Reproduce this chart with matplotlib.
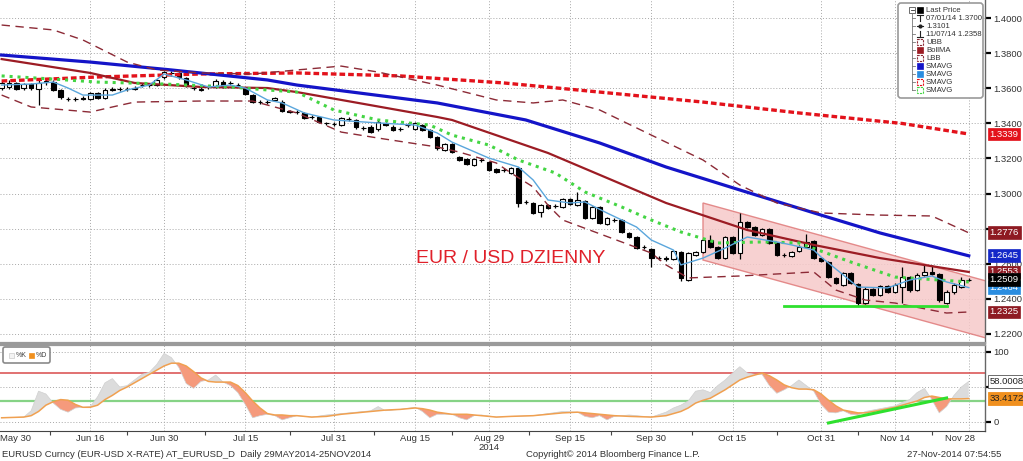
import numpy as np
import pandas as pd
import matplotlib
matplotlib.use('Agg')
import matplotlib.pyplot as plt
from matplotlib.patches import Rectangle, FancyBboxPatch, Polygon
from matplotlib.transforms import ScaledTranslation

plt.rcParams['font.family'] = ['Liberation Sans', 'DejaVu Sans']

# ---------------- data ----------------
dates = pd.bdate_range('2014-05-29', periods=132)

opens = [1.3599, 1.3605, 1.3628, 1.3599, 1.3622, 1.3595, 1.3637, 1.3637, 1.3590, 1.3537,
         1.3540, 1.3545, 1.3537, 1.3571, 1.3546, 1.3592, 1.3594, 1.3596, 1.3597, 1.3616,
         1.3618, 1.3618, 1.3662, 1.3687, 1.3685, 1.3656, 1.3601, 1.3592, 1.3607, 1.3609,
         1.3637, 1.3627, 1.3620, 1.3599, 1.3561, 1.3523, 1.3521, 1.3533, 1.3523, 1.3468,
         1.3466, 1.3460, 1.3435, 1.3434, 1.3400, 1.3397, 1.3390, 1.3424, 1.3419, 1.3373,
         1.3381, 1.3366, 1.3400, 1.3381, 1.3366, 1.3390, 1.3366, 1.3390, 1.3362, 1.3322,
         1.3248, 1.3282, 1.3208, 1.3197, 1.3162, 1.3191, 1.3179, 1.3140, 1.3134, 1.3117,
         1.3145, 1.2952, 1.2946, 1.2895, 1.2934, 1.2929, 1.2923, 1.2969, 1.2934, 1.2957,
         1.2860, 1.2923, 1.2826, 1.2849, 1.2849, 1.2775, 1.2752, 1.2695, 1.2684, 1.2632,
         1.2630, 1.2628, 1.2667, 1.2507, 1.2650, 1.2667, 1.2735, 1.2695, 1.2632, 1.2752,
         1.2661, 1.2838, 1.2809, 1.2764, 1.2798, 1.2718, 1.2650, 1.2644, 1.2672, 1.2695,
         1.2729, 1.2632, 1.2610, 1.2519, 1.2479, 1.2547, 1.2484, 1.2376, 1.2456, 1.2422,
         1.2473, 1.2439, 1.2467, 1.2524, 1.2450, 1.2536, 1.2553, 1.2541, 1.2376, 1.2439,
         1.2467, 1.2505]
closes = [1.3628, 1.3630, 1.3594, 1.3622, 1.3599, 1.3631, 1.3640, 1.3590, 1.3548, 1.3540,
          1.3537, 1.3540, 1.3571, 1.3546, 1.3590, 1.3594, 1.3596, 1.3594, 1.3599, 1.3618,
          1.3616, 1.3647, 1.3694, 1.3685, 1.3662, 1.3614, 1.3599, 1.3594, 1.3609, 1.3643,
          1.3609, 1.3628, 1.3618, 1.3567, 1.3523, 1.3521, 1.3523, 1.3542, 1.3470, 1.3466,
          1.3467, 1.3429, 1.3434, 1.3409, 1.3399, 1.3396, 1.3429, 1.3423, 1.3377, 1.3372,
          1.3352, 1.3409, 1.3390, 1.3362, 1.3367, 1.3391, 1.3400, 1.3362, 1.3322, 1.3259,
          1.3282, 1.3236, 1.3191, 1.3168, 1.3197, 1.3190, 1.3134, 1.3123, 1.3133, 1.3145,
          1.2946, 1.2951, 1.2889, 1.2934, 1.2917, 1.2930, 1.2969, 1.2940, 1.2963, 1.2860,
          1.2923, 1.2832, 1.2860, 1.2850, 1.2781, 1.2752, 1.2691, 1.2694, 1.2632, 1.2631,
          1.2628, 1.2672, 1.2519, 1.2661, 1.2667, 1.2735, 1.2695, 1.2632, 1.2752, 1.2661,
          1.2838, 1.2809, 1.2764, 1.2798, 1.2718, 1.2650, 1.2651, 1.2667, 1.2695, 1.2724,
          1.2632, 1.2615, 1.2524, 1.2490, 1.2547, 1.2490, 1.2376, 1.2456, 1.2422, 1.2473,
          1.2439, 1.2479, 1.2524, 1.2450, 1.2536, 1.2553, 1.2541, 1.2393, 1.2439, 1.2479,
          1.2507, 1.2509]
highs = [1.3640, 1.3645, 1.3636, 1.3632, 1.3630, 1.3650, 1.3660, 1.3645, 1.3595, 1.3552,
         1.3550, 1.3555, 1.3580, 1.3578, 1.3600, 1.3605, 1.3606, 1.3608, 1.3610, 1.3630,
         1.3628, 1.3655, 1.3700, 1.3700, 1.3692, 1.3662, 1.3612, 1.3605, 1.3620, 1.3652,
         1.3645, 1.3640, 1.3630, 1.3606, 1.3566, 1.3532, 1.3533, 1.3550, 1.3530, 1.3478,
         1.3478, 1.3466, 1.3445, 1.3440, 1.3410, 1.3406, 1.3436, 1.3434, 1.3425, 1.3384,
         1.3388, 1.3418, 1.3408, 1.3388, 1.3378, 1.3402, 1.3410, 1.3398, 1.3368, 1.3328,
         1.3290, 1.3290, 1.3215, 1.3204, 1.3205, 1.3202, 1.3185, 1.3146, 1.3145, 1.3152,
         1.3152, 1.2965, 1.2952, 1.2942, 1.2940, 1.2940, 1.2976, 1.2975, 1.3009, 1.2963,
         1.2930, 1.2930, 1.2868, 1.2860, 1.2855, 1.2780, 1.2758, 1.2706, 1.2690, 1.2645,
         1.2642, 1.2680, 1.2672, 1.2668, 1.2675, 1.2742, 1.2765, 1.2702, 1.2760, 1.2760,
         1.2887, 1.2845, 1.2815, 1.2806, 1.2805, 1.2722, 1.2662, 1.2675, 1.2705, 1.2770,
         1.2736, 1.2640, 1.2616, 1.2525, 1.2555, 1.2553, 1.2490, 1.2465, 1.2462, 1.2480,
         1.2480, 1.2488, 1.2580, 1.2530, 1.2545, 1.2600, 1.2590, 1.2548, 1.2448, 1.2490,
         1.2525, 1.2520]
lows = [1.3590, 1.3598, 1.3588, 1.3592, 1.3590, 1.3503, 1.3620, 1.3585, 1.3540, 1.3525,
        1.3528, 1.3530, 1.3530, 1.3540, 1.3538, 1.3582, 1.3584, 1.3585, 1.3588, 1.3605,
        1.3606, 1.3610, 1.3655, 1.3672, 1.3655, 1.3605, 1.3590, 1.3583, 1.3598, 1.3600,
        1.3602, 1.3617, 1.3608, 1.3560, 1.3516, 1.3512, 1.3512, 1.3526, 1.3462, 1.3456,
        1.3455, 1.3422, 1.3425, 1.3402, 1.3390, 1.3386, 1.3385, 1.3414, 1.3370, 1.3360,
        1.3345, 1.3358, 1.3383, 1.3355, 1.3355, 1.3380, 1.3360, 1.3356, 1.3316, 1.3250,
        1.3240, 1.3228, 1.3185, 1.3160, 1.3155, 1.3180, 1.3127, 1.3116, 1.3123, 1.3110,
        1.2923, 1.2940, 1.2882, 1.2866, 1.2910, 1.2918, 1.2916, 1.2934, 1.2928, 1.2852,
        1.2852, 1.2825, 1.2820, 1.2838, 1.2775, 1.2745, 1.2685, 1.2684, 1.2581, 1.2620,
        1.2615, 1.2620, 1.2500, 1.2500, 1.2642, 1.2660, 1.2688, 1.2625, 1.2625, 1.2655,
        1.2624, 1.2802, 1.2758, 1.2756, 1.2712, 1.2642, 1.2640, 1.2636, 1.2665, 1.2688,
        1.2625, 1.2608, 1.2516, 1.2484, 1.2472, 1.2484, 1.2358, 1.2368, 1.2415, 1.2415,
        1.2432, 1.2432, 1.2376, 1.2440, 1.2442, 1.2528, 1.2535, 1.2380, 1.2368, 1.2430,
        1.2460, 1.2500]

# moving averages / bands (day index, value)
sma_red_days = [0, 13, 27, 40, 54, 68, 81, 95, 108, 122, 131]
sma_red = [1.3641, 1.3664, 1.3681, 1.3687, 1.3670, 1.3630, 1.3578, 1.3521, 1.3459, 1.3399, 1.3339]

sma_blue_days = [0, 12, 23, 36, 40, 59, 71, 81, 90, 100, 111, 119, 131]
sma_blue = [1.3789, 1.3749, 1.3704, 1.3647, 1.3618, 1.3516, 1.3419, 1.3288, 1.3151, 1.3020,
            1.2877, 1.2775, 1.2645]

bollma_days = [0, 12, 18, 27, 36, 40, 59, 61, 74, 90, 101, 110, 119, 131]
bollma = [1.3766, 1.3687, 1.3630, 1.3607, 1.3601, 1.3578, 1.3436, 1.3419, 1.3231, 1.2946,
          1.2792, 1.2707, 1.2632, 1.2553]

ubb_days = [0, 7, 11, 17, 21, 27, 34, 40, 46, 51, 59, 67, 72, 76, 81, 88, 95, 100, 105, 111,
            119, 126, 131]
ubb = [1.3960, 1.3932, 1.3875, 1.3749, 1.3704, 1.3687, 1.3681, 1.3704, 1.3726, 1.3692,
       1.3618, 1.3533, 1.3516, 1.3533, 1.3476, 1.3333, 1.3191, 1.3048, 1.2946, 1.2889,
       1.2877, 1.2872, 1.2776]

lbb_days = [0, 4, 12, 15, 18, 27, 34, 36, 40, 46, 51, 59, 62, 67, 69, 72, 74, 76, 88, 90,
            93, 100, 110, 113, 117, 121, 128, 131]
lbb = [1.3561, 1.3493, 1.3464, 1.3493, 1.3521, 1.3527, 1.3527, 1.3504, 1.3459, 1.3350,
       1.3316, 1.3265, 1.3236, 1.3174, 1.3117, 1.3037, 1.2934, 1.2849, 1.2661, 1.2593,
       1.2519, 1.2530, 1.2553, 1.2450, 1.2393, 1.2376, 1.2319, 1.2325]

sma_green_days = [0, 7, 13, 22, 31, 36, 40, 45, 51, 58, 61, 66, 70, 75, 79, 84, 88, 92, 97,
                  103, 108, 115, 121, 131]
sma_green = [1.3670, 1.3652, 1.3635, 1.3624, 1.3607, 1.3590, 1.3578, 1.3476, 1.3419, 1.3390,
             1.3333, 1.3276, 1.3191, 1.3117, 1.3009, 1.2923, 1.2849, 1.2781, 1.2718, 1.2724,
             1.2718, 1.2610, 1.2524, 1.2496]

sma_lblue_days = [0, 4, 7, 9, 11, 15, 17, 20, 22, 25, 28, 31, 33, 36, 38, 41, 45, 51, 56, 59,
                  61, 66, 70, 72, 74, 77, 79, 82, 86, 88, 91, 92, 95, 98, 101, 105, 107, 110,
                  111, 114, 116, 120, 123, 126, 128, 131]
sma_lblue = [1.3618, 1.3624, 1.3635, 1.3601, 1.3561, 1.3561, 1.3590, 1.3618, 1.3681, 1.3647,
             1.3607, 1.3618, 1.3601, 1.3533, 1.3516, 1.3459, 1.3419, 1.3402, 1.3390, 1.3345,
             1.3293, 1.3202, 1.3151, 1.3077, 1.2963, 1.2946, 1.2952, 1.2889, 1.2809, 1.2735,
             1.2678, 1.2593, 1.2632, 1.2689, 1.2752, 1.2724, 1.2707, 1.2678, 1.2638, 1.2536,
             1.2467, 1.2462, 1.2507, 1.2530, 1.2496, 1.2464]

# trend channel and support line
channel_days = [95, 134, 134, 95]
channel_vals = [1.2946, 1.2494, 1.2169, 1.2621]
support_days = [106, 128]
support_vals = [1.2361, 1.2361]

# stochastic
stoch_days = [0, 3, 4, 5, 6, 7, 8, 9, 10, 11, 12, 13, 14, 15, 16, 17, 18, 19, 20, 21, 22, 23,
              24, 25, 26, 27, 28, 29, 30, 31, 32, 33, 34, 35, 36, 37, 38, 39, 40, 42, 44, 46,
              48, 50, 51, 52, 54, 56, 57, 58, 59, 61, 62, 63, 64, 65, 67, 69, 72, 74, 76, 78,
              79, 80, 81, 82, 83, 85, 88, 90, 91, 92, 93, 94, 95, 96, 97, 98, 99, 100, 101,
              102, 103, 104, 105, 106, 107, 108, 109, 110, 111, 112, 113, 114, 115, 116, 117,
              118, 120, 121, 122, 123, 124, 125, 126, 127, 128, 129, 130, 131]
stoch_d = [6, 7, 9, 15, 24, 29, 32, 31, 25, 21, 21, 24, 32, 38, 45, 50, 56, 62, 68, 74, 80, 84,
           84, 80, 72, 63, 58, 57, 57, 57, 52, 42, 30, 20, 12, 10, 10, 9, 9, 7, 8, 11,
           13, 15, 16, 17, 18, 20, 19, 17, 14, 11, 11, 11, 10, 9, 7, 8, 9, 11, 13, 14,
           13, 12, 11, 10, 9, 8, 7, 9, 12, 15, 20, 27, 31, 34, 40, 46, 53, 60, 64,
           67, 70, 66, 60, 53, 49, 47, 47, 46, 40, 31, 23, 17, 15, 13, 13,
           15, 19, 21, 24, 27, 30, 35, 37, 35, 33, 33, 33, 33.4172]
stoch_k = [6, 7, 16, 44, 40, 27, 18, 14, 20, 21, 22, 36, 56, 62, 50, 52, 60, 68, 71, 82, 98, 92,
           78, 55, 48, 58, 60, 67, 57, 52, 42, 25, 6, 9, 11, 9, 3, 6, 9, 7, 10, 12,
           14, 16, 22, 16, 18, 21, 15, 6, 11, 11, 6, 3, 9, 10, 7, 8, 9, 12, 15, 14,
           8, 6, 9, 3, 8, 10, 7, 14, 20, 24, 30, 44, 46, 42, 52, 60, 70, 79, 70,
           68, 68, 52, 41, 46, 52, 60, 52, 44, 25, 14, 13, 16, 11, 10, 15,
           17, 21, 23, 28, 32, 42, 48, 32, 13, 22, 38, 50, 58.0008]
stoch_trend_days = [112, 128]
stoch_trend_vals = [-1.4, 34.3]

tick_dates = ['2014-05-30', '2014-06-16', '2014-06-30', '2014-07-15', '2014-07-31',
              '2014-08-15', '2014-08-29', '2014-09-15', '2014-09-30', '2014-10-15',
              '2014-10-31', '2014-11-14', '2014-11-28']
tick_labels = ['May 30', 'Jun 16', 'Jun 30', 'Jul 15', 'Jul 31', 'Aug 15', 'Aug 29\n2014',
               'Sep 15', 'Sep 30', 'Oct 15', 'Oct 31', 'Nov 14', 'Nov 28']

price_ticks = [1.22, 1.24, 1.26, 1.28, 1.30, 1.32, 1.34, 1.36, 1.38, 1.40]
price_tick_labels = ['1.2200', '1.2400', '1.2600', '', '1.3000', '1.3200', '1.3400', '1.3600',
                     '1.3800', '1.4000']   # 1.2800 sits fully under the 1.2776 tag
stoch_ticks = [0, 50, 100]
stoch_tick_labels = ['0', '', '100']       # 50 sits fully under the 58.0008 tag

tag_vals = [1.3339, 1.2776, 1.2645, 1.2553, 1.2464, 1.2509, 1.2325]
tag_colors = ['#e3121b', '#8e1a22', '#1428c8', '#8e1a22', '#2a8de0', '#000000', '#8e1a22']
stoch_tags = [58.0008, 33.4172]

legend_rows = ['Last Price', '07/01/14 1.3700', '1.3101', '11/07/14 1.2358', 'UBB', 'BollMA',
               'LBB', 'SMAVG', 'SMAVG', 'SMAVG', 'SMAVG']

# ---------------- figure ----------------
W, H = 1023, 461
fig = plt.figure(figsize=(W / 100, H / 100), dpi=100)
fig.patch.set_facecolor('white')

ax = fig.add_axes([0, 1 - 343 / H, 985 / W, 343 / H])
ax2 = fig.add_axes([0, 1 - 431 / H, 985 / W, (431 - 345) / H])

all_days = np.arange(len(dates))
tick_pos = [dates.get_loc(pd.Timestamp(d)) if pd.Timestamp(d) in dates else len(dates) - 1
            for d in tick_dates]
mid_pos = [(a + b) / 2 for a, b in zip(tick_pos[:-1], tick_pos[1:])]

XL = (-0.22, 133.2)
GRID = '#a8a8a8'
for a in (ax, ax2):
    a.set_xlim(*XL)
    for p in tick_pos[1:]:
        a.axvline(p, color=GRID, lw=0.7, ls=(0, (1, 2)), zorder=0)
    a.yaxis.tick_right()
    a.tick_params(axis='y', direction='out', length=4, width=1.6, colors='black',
                  labelcolor='#333333', labelsize=6.8, pad=2)
    a.spines['left'].set_visible(False)
    a.spines['right'].set_color('#666666')
    a.spines['right'].set_linewidth(1)

# ---- main panel ----
ax.set_ylim(1.21482, 1.41026)
ax.set_yticks(price_ticks)
ax.set_yticklabels(price_tick_labels)
ax.grid(axis='y', color=GRID, lw=0.7, ls=(0, (1, 2)))
ax.set_axisbelow(True)
ax.set_xticks([])
ax.spines['top'].set_visible(False)
ax.spines['bottom'].set_color('#9a9a9a')
ax.spines['bottom'].set_linewidth(1.6)

# channel
ax.add_patch(Polygon(list(zip(channel_days, channel_vals)), closed=True,
                     facecolor='#f6c9c9', edgecolor='#e07a7a', lw=1.0, alpha=0.85, zorder=1))

# candles
o = np.array(opens); c = np.array(closes); hi = np.array(highs); lo = np.array(lows)
up = c >= o
ax.vlines(all_days, lo, hi, color='black', lw=0.9, zorder=3)
ax.bar(all_days, np.maximum(np.abs(c - o), 0.00008), bottom=np.minimum(o, c), width=0.62,
       color=np.where(up, 'white', 'black'), edgecolor='black', linewidth=0.8, zorder=4)

# lines
ax.plot(sma_red_days, sma_red, color='#e3121b', lw=2.4, ls=(0, (1.7, 0.9)), zorder=5)
ax.plot(sma_blue_days, sma_blue, color='#1414c8', lw=2.3, zorder=5)
ax.plot(bollma_days, bollma, color='#9c1c24', lw=1.6, zorder=5)
ax.plot(ubb_days, ubb, color='#8c2a36', lw=1.0, ls=(0, (6, 4)), zorder=5)
ax.plot(lbb_days, lbb, color='#8c2a36', lw=1.0, ls=(0, (6, 4)), zorder=5)
ax.plot(sma_green_days, sma_green, color='#44d544', lw=2.2, ls=(0, (1, 1.6)), zorder=5)
ax.plot(sma_lblue_days, sma_lblue, color='#5aa6dc', lw=1.0, zorder=5)
ax.plot(support_days, support_vals, color='#2ee02e', lw=2.0, zorder=6)

ax.text(0.518, 0.245, 'EUR / USD DZIENNY', transform=ax.transAxes, ha='center', va='center',
        color='#e0202a', fontsize=14, zorder=7)

# value tags
for v, col in zip(tag_vals, tag_colors):
    ax.annotate('%.4f' % v, xy=(1, v), xycoords=('axes fraction', 'data'), xytext=(3.2, 0),
                textcoords='offset points', ha='left', va='center', fontsize=6.8, color='white',
                bbox=dict(boxstyle='square,pad=0.2', fc=col, ec=col, lw=0.5),
                annotation_clip=False, zorder=10)

# ---- stochastic panel ----
ax2.set_ylim(-12.9, 110)
ax2.set_yticks(stoch_ticks)
ax2.set_yticklabels(stoch_tick_labels)
ax2.grid(axis='y', color=GRID, lw=0.7, ls=(0, (1, 2)))
ax2.spines['top'].set_color('#9a9a9a')
ax2.spines['top'].set_linewidth(1.6)
ax2.spines['bottom'].set_color('#444444')
ax2.axhline(70, color='#d84a4a', lw=1.1, zorder=2)
ax2.axhline(30, color='#86d386', lw=1.6, zorder=2)
sk = np.array(stoch_k, dtype=float); sd = np.array(stoch_d, dtype=float)
ax2.fill_between(stoch_days, sk, sd, where=sk >= sd, interpolate=True, color='#dcdcdc',
                 lw=0, zorder=3)
ax2.fill_between(stoch_days, sk, sd, where=sk < sd, interpolate=True, color='#f59a7c',
                 lw=0, zorder=3)
ax2.plot(stoch_days, sk, color='#d0d0d0', lw=0.5, zorder=4)
ax2.plot(stoch_days, sd, color='#f0a050', lw=1.1, zorder=4)
ax2.plot(stoch_trend_days, stoch_trend_vals, color='#2ee02e', lw=2.2, zorder=5)

ax2.set_xticks(tick_pos)
ax2.set_xticklabels(tick_labels, fontsize=6.8, color='#333333', linespacing=1.05)
ax2.set_xticks(mid_pos, minor=True)
ax2.tick_params(axis='x', which='major', length=0, pad=2)
ax2.tick_params(axis='x', which='minor', length=3, width=0.8, color='#444444')
lbls = ax2.get_xticklabels()
lbls[-1].set_transform(lbls[-1].get_transform() + ScaledTranslation(-9 / 100, 0, fig.dpi_scale_trans))
lbls[0].set_transform(lbls[0].get_transform() + ScaledTranslation(6 / 100, 0, fig.dpi_scale_trans))

ax2.annotate('%.4f' % stoch_tags[0], xy=(1, stoch_tags[0]), xycoords=('axes fraction', 'data'),
             xytext=(3.2, 0), textcoords='offset points', ha='left', va='center', fontsize=6.8,
             color='#222222', bbox=dict(boxstyle='square,pad=0.2', fc='white', ec='#555555', lw=0.6),
             annotation_clip=False, zorder=10)
ax2.annotate('%.4f' % stoch_tags[1], xy=(1, stoch_tags[1]), xycoords=('axes fraction', 'data'),
             xytext=(3.2, 0), textcoords='offset points', ha='left', va='center', fontsize=6.8,
             color='#222222', bbox=dict(boxstyle='square,pad=0.2', fc='#f0901e', ec='#f0901e', lw=0.6),
             annotation_clip=False, zorder=10)

# ---- overlay: legends and footer (pixel coordinates) ----
ov = fig.add_axes([0, 0, 1, 1])
ov.set_xlim(0, W); ov.set_ylim(H, 0); ov.axis('off'); ov.patch.set_alpha(0)

ov.add_patch(FancyBboxPatch((898, 3), 85, 95, boxstyle='round,pad=0,rounding_size=3',
                            fc='white', ec='#9a9a9a', lw=1.2))
row_y = [10 + 8.05 * i for i in range(len(legend_rows))]
ov.plot([912, 912], [row_y[0] + 3, row_y[-1]], color='#777777', lw=0.6)
ov.add_patch(Rectangle((909, row_y[0] - 3), 6, 6, fc='white', ec='#555555', lw=0.6))
ov.plot([910.5, 913.5], [row_y[0], row_y[0]], color='#333333', lw=0.6)
icon_colors = ['black', None, None, None, '#8c2a36', '#9c1c24', '#8c2a36', '#1414c8',
               '#2a8de0', '#e3121b', '#44d544']
for i, (txt, yy) in enumerate(zip(legend_rows, row_y)):
    if i > 0:
        ov.plot([912, 915], [yy, yy], color='#777777', lw=0.6)
    col = icon_colors[i]
    if i in (0, 5, 7, 8):
        ov.add_patch(Rectangle((916.5, yy - 3), 6, 6, fc=col, ec=col, lw=0.5))
    elif i in (4, 6, 9, 10):
        ov.add_patch(Rectangle((916.5, yy - 3), 6, 6, fc='white', ec=col, lw=0.8, ls=(0, (2, 1))))
    elif i == 1:
        ov.plot([916.5, 922.5], [yy - 3, yy - 3], color='#222222', lw=0.8)
        ov.plot([919.5, 919.5], [yy - 3, yy + 3], color='#222222', lw=0.8)
    elif i == 2:
        ov.plot([916.5, 922.5], [yy, yy], color='#222222', lw=0.8)
        ov.plot([919.5], [yy], 'o', color='#222222', ms=2)
    elif i == 3:
        ov.plot([916.5, 922.5], [yy + 3, yy + 3], color='#222222', lw=0.8)
        ov.plot([919.5, 919.5], [yy - 3, yy + 3], color='#222222', lw=0.8)
    ov.text(926, yy, txt, fontsize=5.6, color='#333333', va='center', ha='left')

ov.add_patch(FancyBboxPatch((3, 347), 47, 16, boxstyle='round,pad=0,rounding_size=2',
                            fc='white', ec='#8a8a8a', lw=1.2))
ov.add_patch(Rectangle((9, 352.5), 5, 5, fc='#f4f4f4', ec='#cccccc', lw=0.5))
ov.text(16, 355.5, '%K', fontsize=5, color='#444444', va='center')
ov.add_patch(Rectangle((29, 352.5), 5, 5, fc='#f0901e', ec='#f0901e', lw=0.5))
ov.text(36, 355.5, '%D', fontsize=5, color='#444444', va='center')

ov.text(2, 454.5, 'EURUSD Curncy (EUR-USD X-RATE) AT_EURUSD_D  Daily 29MAY2014-25NOV2014',
        fontsize=6.8, color='#333333', va='center', ha='left')
ov.text(613, 454.5, 'Copyright\u00a9 2014 Bloomberg Finance L.P.', fontsize=6.8, color='#333333',
        va='center', ha='center')
ov.text(1001, 454.5, '27-Nov-2014 07:54:55', fontsize=6.8, color='#333333', va='center', ha='right')

fig.savefig('out.png', dpi=100, facecolor='white')
